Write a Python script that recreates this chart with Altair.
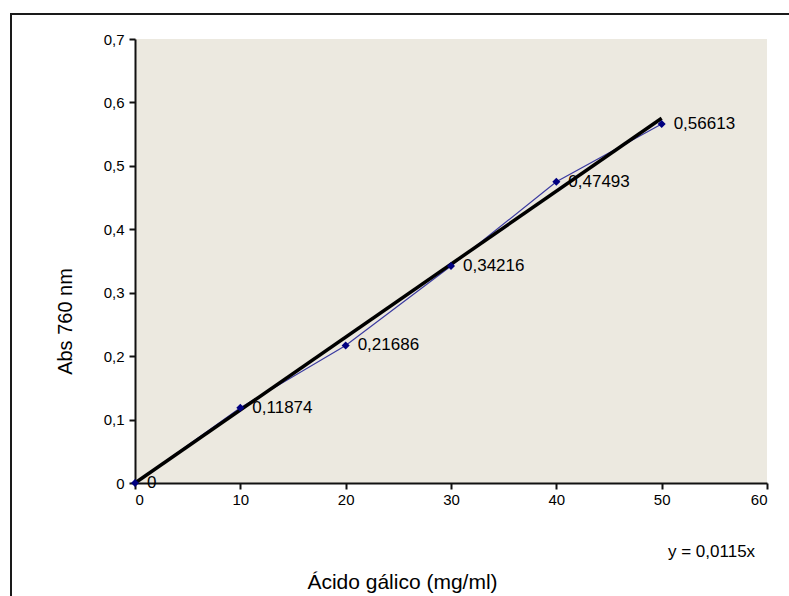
import altair as alt
import pandas as pd

conc = [0, 10, 20, 30, 40, 50]
absorb = [0, 0.11874, 0.21686, 0.34216, 0.47493, 0.56613]
point_labels = ["0", "0,11874", "0,21686", "0,34216", "0,47493", "0,56613"]
slope = 0.0115
trend_x = [0, 50]
equation = "y = 0,0115x"

FONT = "Liberation Sans"

df = pd.DataFrame({"conc": conc, "abs": absorb, "lab": point_labels})
trend = pd.DataFrame({"conc": trend_x, "abs": [slope * v for v in trend_x]})

xscale = alt.Scale(domain=[0, 60], nice=False, zero=True)
yscale = alt.Scale(domain=[0, 0.7], nice=False, zero=True)

xax = alt.Axis(
    values=[0, 10, 20, 30, 40, 50, 60], grid=False,
    domainColor="#111111", domainWidth=2, tickColor="#111111", tickWidth=2, tickSize=6,
    labelFont=FONT, labelFontSize=15, labelColor="#000000", labelPadding=3,
    title="Ácido gálico (mg/ml)", titleFont=FONT, titleFontSize=21, titleFontWeight="normal",
    titleColor="#000000", titleX=267, titleY=105, titleBaseline="alphabetic", titleAlign="center",
)
yax = alt.Axis(
    values=[0, 0.1, 0.2, 0.3, 0.4, 0.5, 0.6, 0.7], grid=False,
    domainColor="#111111", domainWidth=2, tickColor="#111111", tickWidth=2, tickSize=6,
    labelFont=FONT, labelFontSize=15, labelColor="#000000", labelPadding=5,
    labelExpr="replace(format(datum.value, '.1~f'), '.', ',')",
    title="Abs 760 nm", titleFont=FONT, titleFontSize=20, titleFontWeight="normal",
    titleColor="#000000", titleX=-64, titleY=282, titleAngle=-90,
    titleBaseline="alphabetic", titleAlign="center",
)

base = alt.Chart(df)

data_line = base.mark_line(color="#3a3aa0", strokeWidth=1.2).encode(
    x=alt.X("conc:Q", scale=xscale, axis=xax),
    y=alt.Y("abs:Q", scale=yscale, axis=yax),
)
trend_line = alt.Chart(trend).mark_line(color="#000000", strokeWidth=3.5).encode(
    x=alt.X("conc:Q", scale=xscale),
    y=alt.Y("abs:Q", scale=yscale),
)
points = base.mark_point(shape="diamond", filled=True, color="#000080", size=65, opacity=1).encode(
    x=alt.X("conc:Q", scale=xscale),
    y=alt.Y("abs:Q", scale=yscale),
)
labels = base.mark_text(align="left", baseline="middle", dx=12, font=FONT, fontSize=17, color="#000000").encode(
    x=alt.X("conc:Q", scale=xscale),
    y=alt.Y("abs:Q", scale=yscale),
    text="lab:N",
)
eq = alt.Chart(pd.DataFrame({"t": [equation]})).mark_text(
    align="left", baseline="middle", font=FONT, fontSize=17, color="#000000"
).encode(x=alt.value(533), y=alt.value(513), text="t:N")

border_left = alt.Chart(pd.DataFrame({"a": [0]})).mark_rule(color="#1a1a1a", strokeWidth=2).encode(
    x=alt.value(-124), y=alt.value(-26), y2=alt.value(600)
)
border_top = alt.Chart(pd.DataFrame({"a": [0]})).mark_rule(color="#1a1a1a", strokeWidth=2).encode(
    x=alt.value(-125), x2=alt.value(700), y=alt.value(-25)
)

chart = alt.layer(
    data_line, trend_line, points, labels, eq, border_left, border_top
).properties(
    width=632, height=444,
    autosize=alt.AutoSizeParams(type="none"),
    padding={"left": 135, "top": 39, "right": 22, "bottom": 113},
    background="#ffffff",
).configure_view(
    fill="#ECE9E0", stroke=None
)

chart.save("out.html", embed_options={"renderer": "svg", "actions": False})
